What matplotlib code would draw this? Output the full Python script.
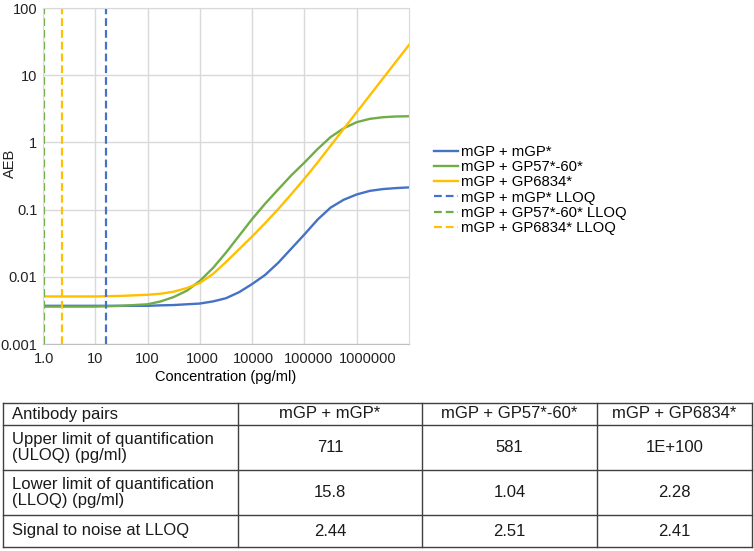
import matplotlib.pyplot as plt
from matplotlib.transforms import ScaledTranslation

plt.rcParams['font.family'] = ['Liberation Sans', 'DejaVu Sans']

# values
conc = [1, 10, 31.6, 100, 178, 316, 562, 1000, 1780, 3160, 5620, 10000,
        17800, 31600, 56200, 100000, 178000, 316000, 562000, 1000000,
        1780000, 3160000, 5620000, 10000000]
aeb_mgp = [0.0037, 0.0037, 0.0037, 0.0037, 0.00376, 0.0038, 0.0039, 0.0040,
           0.0043, 0.0048, 0.0059, 0.0078, 0.0107, 0.0162, 0.0263, 0.0427,
           0.0708, 0.107, 0.140, 0.168, 0.190, 0.202, 0.209, 0.214]
aeb_gp57 = [0.0036, 0.0036, 0.0037, 0.0039, 0.0043, 0.0050, 0.0062, 0.0087,
            0.0135, 0.0229, 0.0407, 0.0724, 0.123, 0.200, 0.324, 0.501,
            0.794, 1.20, 1.62, 2.00, 2.24, 2.37, 2.43, 2.45]
aeb_gp6834 = [0.0051, 0.0051, 0.0052, 0.0054, 0.0056, 0.0060, 0.0068, 0.0081,
              0.011, 0.0166, 0.0257, 0.0398, 0.0631, 0.102, 0.170, 0.288,
              0.501, 0.891, 1.585, 2.82, 5.01, 8.91, 15.85, 28.2]

pairs = ['mGP + mGP*', 'mGP + GP57*-60*', 'mGP + GP6834*']
colors = ['#4472C4', '#70AD47', '#FFC000']
uloq = ['711', '581', '1E+100']
lloq = [15.8, 1.04, 2.28]
snr = ['2.44', '2.51', '2.41']
row_labels = ['Antibody pairs', 'Upper limit of quantification\n(ULOQ) (pg/ml)',
              'Lower limit of quantification\n(LLOQ) (pg/ml)', 'Signal to noise at LLOQ']

xticks = [1, 10, 100, 1000, 10000, 100000, 1000000]
xticklabels = ['1.0', '10', '100', '1000', '10000', '100000', '1000000']
yticks = [0.001, 0.01, 0.1, 1, 10, 100]
yticklabels = ['0.001', '0.01', '0.1', '1', '10', '100']

W, H = 754, 551
fig = plt.figure(figsize=(W / 100, H / 100), dpi=100)
ax = fig.add_axes([43 / W, 1 - 344 / H, (409 - 43) / W, (344 - 8) / H])

for y, c, name in zip([aeb_mgp, aeb_gp57, aeb_gp6834], colors, pairs):
    ax.plot(conc, y, color=c, lw=1.7, label=name)
for x, c, name in zip(lloq, colors, pairs):
    ax.axvline(x, color=c, lw=1.6, dashes=(3.5, 1.8), label=name + ' LLOQ')

ax.set_xscale('log')
ax.set_yscale('log')
ax.set_xlim(1, 1e7)
ax.set_ylim(0.001, 100)
ax.set_xticks(xticks, xticklabels)
ax.set_yticks(yticks, yticklabels)
ax.minorticks_off()
ax.grid(True, color='#D9D9D9', lw=1)
ax.set_axisbelow(True)
for s in ax.spines.values():
    s.set_color('#D9D9D9')
ax.spines['bottom'].set_color('#BFBFBF')
ax.tick_params(length=0, labelsize=10.5, colors='#222222')
ax.tick_params(axis='x', pad=6)
ax.tick_params(axis='y', pad=4)
ax.set_xlabel('Concentration (pg/ml)', fontsize=10.5, labelpad=3)

# the last two x labels sit a little right of their gridlines in the original
for lab, dx in zip(ax.get_xticklabels(), [1, 0, 0, 2, 1, 4, 11]):
    lab.set_transform(lab.get_transform() + ScaledTranslation(dx / 100, 0, fig.dpi_scale_trans))

fig.text(10 / W, 1 - 163 / H, 'AEB', rotation=90, ha='center', va='center',
         fontsize=10.5, color='#222222')

ax.legend(loc='upper left', bbox_to_anchor=(434 / W, 1 - 145 / H),
          bbox_transform=fig.transFigure, frameon=False, fontsize=10.7,
          handlelength=1.6, handletextpad=0.2, labelspacing=0.08,
          borderpad=0, borderaxespad=0)

# table drawn in pixel coordinates
tax = fig.add_axes([0, 0, 1, 1])
tax.set_xlim(0, W)
tax.set_ylim(H, 0)
tax.axis('off')
col_x = [3, 238, 422, 597, 752]
row_y = [403, 425, 470, 515, 547]
for yy in row_y:
    tax.plot([col_x[0], col_x[-1]], [yy, yy], color='#404040', lw=1)
for xx in col_x:
    tax.plot([xx, xx], [row_y[0], row_y[-1]], color='#404040', lw=1)

cells = [pairs, uloq, [f'{v:g}' for v in lloq], snr]
for r in range(4):
    yc = (row_y[r] + row_y[r + 1]) / 2
    tax.text(col_x[0] + 9, yc, row_labels[r], ha='left', va='center',
             fontsize=12, linespacing=1.05, color='#1a1a1a')
    for c in range(3):
        xc = (col_x[c + 1] + col_x[c + 2]) / 2
        tax.text(xc, yc, cells[r][c], ha='center', va='center',
                 fontsize=12, color='#1a1a1a')

fig.savefig('out.png', dpi=100)
